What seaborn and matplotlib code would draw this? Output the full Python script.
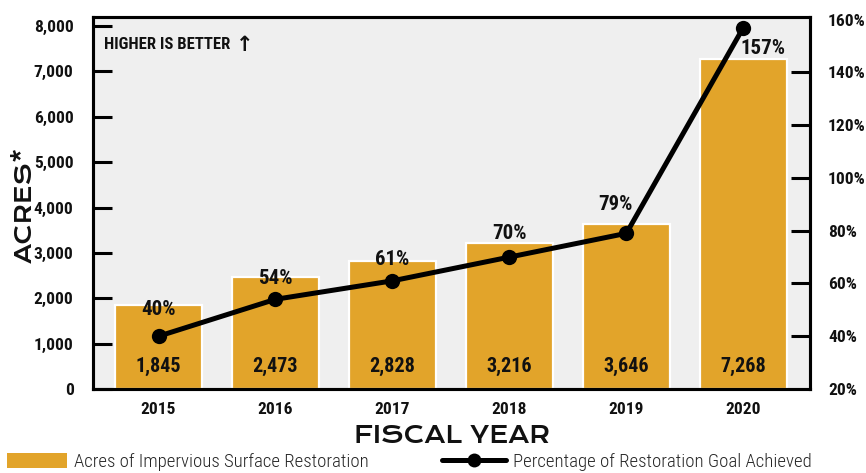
import numpy as np
import pandas as pd
import matplotlib
matplotlib.use("Agg")
import matplotlib.pyplot as plt
import seaborn as sns
from matplotlib import font_manager
from matplotlib.patches import Patch
from matplotlib.lines import Line2D

# --- data -------------------------------------------------------------
years = ["2015", "2016", "2017", "2018", "2019", "2020"]
acres = [1845, 2473, 2828, 3216, 3646, 7268]
goal_pct = [40, 54, 61, 70, 79, 157]
acre_ticks = [0, 1000, 2000, 3000, 4000, 5000, 6000, 7000, 8000]
pct_ticks = [20, 40, 60, 80, 100, 120, 140, 160]

BAR = "#E2A42A"
BG = "#EFEFEF"
INK = "#111111"

sns.set_style("white")

installed = {f.name for f in font_manager.fontManager.ttflist}


def pick(*names):
    for n in names:
        if n in installed:
            return n
    return "DejaVu Sans"


NARROW = pick("Roboto Condensed", "Liberation Sans Narrow", "Roboto")
WIDE = pick("Krona One", "Michroma", "Syncopate", "DejaVu Sans")
plt.rcParams["font.family"] = [NARROW, "DejaVu Sans"]

W, H = 866, 473
fig = plt.figure(figsize=(W / 100, H / 100), dpi=100)
L, R, T, B = 93, 810, 17, 389
ax = fig.add_axes([L / W, 1 - B / H, (R - L) / W, (B - T) / H])
ax.set_facecolor(BG)

df = pd.DataFrame({"year": years, "acres": acres, "pct": goal_pct})

sns.barplot(data=df, x="year", y="acres", color=BAR, saturation=1,
            width=0.74, edgecolor="white", linewidth=1.6, ax=ax, zorder=2)
ax.set_xlim(-0.56, 5.57)
ax.set_ylim(0, 8200)
ax.set_yticks(acre_ticks)
ax.set_yticklabels([f"{v:,}" for v in acre_ticks])
ax.set_xlabel("")
ax.set_ylabel("")
ax.tick_params(axis="y", direction="in", length=14, width=2.2, pad=14,
               labelsize=12.5, color="black", labelcolor=INK)
ax.tick_params(axis="x", length=0, pad=9, labelsize=12.5, labelcolor=INK)
for lab in ax.get_yticklabels() + ax.get_xticklabels():
    lab.set_fontweight("bold")
# no tick marks at the ends of the scale
yt = ax.yaxis.get_major_ticks()
for t in (yt[0], yt[-1]):
    t.tick1line.set_visible(False)

# values printed inside the bars
for i, v in enumerate(acres):
    ax.text(i, 500, f"{v:,}", ha="center", va="center", fontsize=14.5,
            fontweight="bold", color=INK, zorder=5)

# secondary axis: share of goal achieved
ax2 = ax.twinx()
pos = np.arange(len(years))
sns.lineplot(x=pos, y=goal_pct, ax=ax2, color="black", linewidth=3.6,
             marker="o", markersize=11, markeredgewidth=0, zorder=4,
             legend=False)
ax2.set_ylim(20, 161)
ax2.set_yticks(pct_ticks)
ax2.set_yticklabels([f"{v}%" for v in pct_ticks])
ax2.set_ylabel("")
ax2.tick_params(axis="y", direction="in", length=14, width=2.2, pad=13,
                labelsize=12.5, color="black", labelcolor=INK)
for lab in ax2.get_yticklabels():
    lab.set_fontweight("bold")
yt2 = ax2.yaxis.get_major_ticks()
for t in (yt2[0], yt2[-1]):
    t.tick2line.set_visible(False)

# percentage labels next to the points (offsets in points)
offsets = [(0, 19), (0, 15), (0, 15), (0, 17), (-8, 21), (14, -15)]
for i, (p, off) in enumerate(zip(goal_pct, offsets)):
    ax2.annotate(f"{p}%", (i, p), xytext=off, textcoords="offset points",
                 ha="center", va="center", fontsize=15, fontweight="bold",
                 color=INK, zorder=6)

for a in (ax, ax2):
    for s in a.spines.values():
        s.set_visible(True)
        s.set_color("black")
        s.set_linewidth(2.2)

ax.text(0.015, 0.925, "HIGHER IS BETTER", transform=ax.transAxes,
        ha="left", va="center", fontsize=12, fontweight="bold", color=INK)
fig.text(245 / W, 1 - 45 / H, "\u2191", ha="center", va="center",
         fontsize=15, fontweight="bold", family="DejaVu Sans", color=INK)

fig.text(25 / W, 1 - 205 / H, "ACRES*", rotation=90, ha="center",
         va="center", fontsize=16, family=WIDE, color=INK)
fig.text(452 / W, 1 - 436 / H, "FISCAL YEAR", ha="center", va="center",
         fontsize=16.5, family=WIDE, color=INK)

# legend along the bottom edge
h1 = Patch(facecolor=BAR, edgecolor="none")
h2 = Line2D([0], [0], color="black", linewidth=3.6, marker="o",
            markersize=10, markeredgewidth=0)
lfont = {"family": NARROW, "weight": "light", "size": 13.5}
fig.legend([h1], ["Acres of Impervious Surface Restoration"],
           loc="center left", bbox_to_anchor=(7 / W, 1 - 462 / H),
           frameon=False, prop=lfont, handlelength=3.2,
           handleheight=0.9, handletextpad=0.35, borderpad=0,
           borderaxespad=0)
fig.legend([h2], ["Percentage of Restoration Goal Achieved"],
           loc="center left", bbox_to_anchor=(442 / W, 1 - 462 / H),
           frameon=False, prop=lfont, handlelength=3.4,
           handletextpad=0.4, borderpad=0, borderaxespad=0)

fig.savefig("out.png", dpi=100)
